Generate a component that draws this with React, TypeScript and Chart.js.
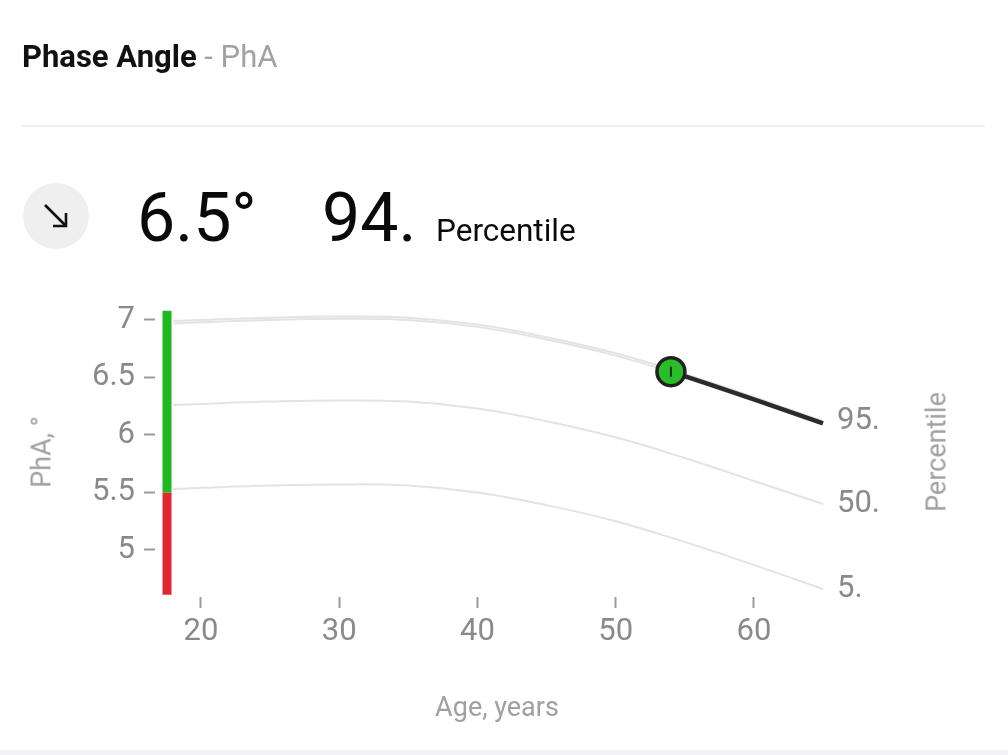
import React, { useEffect, useRef } from "react";
import { Chart, registerables } from "chart.js";

Chart.register(...registerables);

// ---- data ----
const ages = [18, 20, 25, 30, 35, 40, 45, 50, 55, 60, 65];
const p95 = [6.99, 7.0, 7.02, 7.03, 7.02, 6.96, 6.85, 6.71, 6.53, 6.33, 6.12];
const p94 = [6.97, 6.98, 7.0, 7.01, 7.0, 6.94, 6.83, 6.69, 6.51, 6.31, 6.1];
const p50 = [6.26, 6.27, 6.29, 6.3, 6.29, 6.23, 6.12, 5.98, 5.8, 5.6, 5.4];
const p5 = [5.53, 5.54, 5.56, 5.57, 5.56, 5.5, 5.39, 5.25, 5.07, 4.87, 4.66];
const userAges = [54, 60, 65];
const userValues = [6.55, 6.31, 6.1];
const measuredAge = 54;
const measuredValue = 6.55;
const rangeAge = 17.55;
const redRange = [4.61, 5.5];
const greenRange = [5.5, 7.08];
const xTicks = [20, 30, 40, 50, 60];
const yTicks = [5, 5.5, 6, 6.5, 7];
const yTickLabels = ["5", "5.5", "6", "6.5", "7"];
const percentileTickValues = [6.12, 5.4, 4.66];
const percentileTickLabels = ["95.", "50.", "5."];

const X_MIN = 16.68;
const X_MAX = 65;
const Y_MIN = 4.591;
const Y_MAX = 7.078;

const FONT = "Roboto, 'Noto Sans', Arial, sans-serif";
const TICK_COLOR = "#8a8a8a";
const CURVE_COLOR = "#e3e3e5";

const toPts = (xs: number[], ys: number[]) => xs.map((x, i) => ({ x, y: ys[i] }));

function PhaseChart() {
  const ref = useRef<HTMLCanvasElement | null>(null);
  useEffect(() => {
    if (!ref.current) return;
    const curve = (data: number[], order: number) => ({
      data: toPts(ages, data),
      borderColor: CURVE_COLOR,
      borderWidth: 2,
      pointRadius: 0,
      tension: 0.4,
      fill: false,
      order,
    });
    const chart = new Chart(ref.current, {
      type: "line",
      data: {
        datasets: [
          {
            data: [{ x: measuredAge, y: measuredValue }],
            showLine: false,
            pointStyle: "line",
            rotation: 90,
            pointRadius: 5,
            borderColor: "#1e2a1e",
            borderWidth: 2,
            order: -1,
          } as any,
          {
            data: [{ x: measuredAge, y: measuredValue }],
            showLine: false,
            pointStyle: "circle",
            pointRadius: 14,
            pointBackgroundColor: "#29be29",
            pointBorderColor: "#222222",
            pointBorderWidth: 3.5,
            order: 0,
          },
          {
            data: toPts(userAges, userValues),
            borderColor: "#2b2b2b",
            borderWidth: 4.5,
            pointRadius: 0,
            tension: 0.3,
            order: 1,
          },
          curve(p94, 2),
          curve(p95, 3),
          curve(p50, 4),
          curve(p5, 5),
          {
            data: [
              { x: rangeAge, y: greenRange[0] },
              { x: rangeAge, y: greenRange[1] },
            ],
            borderColor: "#1fb81f",
            borderWidth: 9,
            borderCapStyle: "butt",
            pointRadius: 0,
            order: 6,
          },
          {
            data: [
              { x: rangeAge, y: redRange[0] },
              { x: rangeAge, y: redRange[1] },
            ],
            borderColor: "#e0262e",
            borderWidth: 9,
            borderCapStyle: "butt",
            pointRadius: 0,
            order: 7,
          },
        ],
      },
      options: {
        animation: false,
        responsive: true,
        maintainAspectRatio: false,
        clip: false as any,
        layout: { padding: { top: 311, left: 0, right: 0, bottom: 0 } },
        plugins: { legend: { display: false }, tooltip: { enabled: false } },
        events: [],
        scales: {
          x: {
            type: "linear",
            min: X_MIN,
            max: X_MAX,
            afterFit: (s: any) => {
              s.height = 158;
            },
            afterBuildTicks: (s: any) => {
              s.ticks = xTicks.map((v) => ({ value: v }));
            },
            grid: {
              display: true,
              drawOnChartArea: false,
              drawTicks: true,
              tickLength: 11,
              tickColor: "#9a9a9a",
              tickWidth: 2,
            },
            border: { display: false },
            ticks: {
              padding: 6,
              color: TICK_COLOR,
              font: { family: FONT, size: 31 },
              maxRotation: 0,
              callback: (v: any) => String(v),
            },
          },
          y: {
            type: "linear",
            position: "left",
            min: Y_MIN,
            max: Y_MAX,
            afterFit: (s: any) => {
              s.width = 155;
            },
            afterBuildTicks: (s: any) => {
              s.ticks = yTicks.map((v) => ({ value: v }));
            },
            grid: {
              display: true,
              drawOnChartArea: false,
              drawTicks: true,
              tickLength: 11,
              tickColor: "#9a9a9a",
              tickWidth: 2,
            },
            border: { display: false },
            ticks: {
              padding: 9,
              color: TICK_COLOR,
              font: { family: FONT, size: 31 },
              callback: (_v: any, i: number) => yTickLabels[i],
            },
          },
          yRight: {
            type: "linear",
            position: "right",
            min: Y_MIN,
            max: Y_MAX,
            afterFit: (s: any) => {
              s.width = 185;
            },
            afterBuildTicks: (s: any) => {
              s.ticks = percentileTickValues.map((v) => ({ value: v }));
            },
            grid: { display: false, drawOnChartArea: false, drawTicks: false },
            border: { display: false },
            ticks: {
              padding: 14,
              color: TICK_COLOR,
              font: { family: FONT, size: 31 },
              callback: (_v: any, i: number) => percentileTickLabels[i],
            },
          },
        },
      },
    });
    return () => chart.destroy();
  }, []);
  return <canvas ref={ref} />;
}

export default function App() {
  const abs = (o: React.CSSProperties): React.CSSProperties => ({ position: "absolute", ...o });
  return (
    <div
      style={{
        position: "absolute",
        left: 0,
        top: 0,
        width: 1008,
        height: 755,
        overflow: "hidden",
        background: "#ffffff",
        fontFamily: FONT,
      }}
    >
      <div style={abs({ left: 0, top: 0, width: 1008, height: 755 })}>
        <PhaseChart />
      </div>
      <div style={abs({ left: 22, top: 41, fontSize: 31, lineHeight: "31px", whiteSpace: "nowrap" })}>
        <span style={{ fontWeight: 700, color: "#111" }}>Phase Angle</span>
        <span style={{ color: "#a2a2a2" }}> - PhA</span>
      </div>
      <div style={abs({ left: 22, top: 125, width: 963, height: 2, background: "#efefef" })} />
      <div
        style={abs({
          left: 23,
          top: 183,
          width: 66,
          height: 66,
          borderRadius: "50%",
          background: "#efefef",
        })}
      >
        <svg width="66" height="66" viewBox="0 0 66 66" style={{ display: "block" }}>
          <line x1="22" y1="22" x2="43" y2="43" stroke="#111" strokeWidth="2.6" />
          <polyline points="30,43 43,43 43,30" fill="none" stroke="#111" strokeWidth="2.6" />
        </svg>
      </div>
      <div style={abs({ left: 137, top: 184, fontSize: 68, lineHeight: "68px", color: "#0a0a0a", whiteSpace: "nowrap" })}>
        6.5°
      </div>
      <div style={abs({ left: 322, top: 184, fontSize: 68, lineHeight: "68px", color: "#0a0a0a", whiteSpace: "nowrap" })}>
        94.
      </div>
      <div style={abs({ left: 436, top: 215, fontSize: 31.5, lineHeight: "31px", color: "#0a0a0a", whiteSpace: "nowrap" })}>
        Percentile
      </div>
      <div
        style={abs({
          left: 42,
          top: 452,
          fontSize: 27,
          lineHeight: "27px",
          color: "#a0a0a0",
          whiteSpace: "nowrap",
          transform: "translate(-50%, -50%) rotate(-90deg)",
        })}
      >
        PhA, °
      </div>
      <div
        style={abs({
          left: 937,
          top: 452,
          fontSize: 27,
          lineHeight: "27px",
          color: "#a0a0a0",
          whiteSpace: "nowrap",
          transform: "translate(-50%, -50%) rotate(-90deg)",
        })}
      >
        Percentile
      </div>
      <div
        style={abs({
          left: 497,
          top: 707,
          fontSize: 27,
          lineHeight: "27px",
          color: "#a0a0a0",
          whiteSpace: "nowrap",
          transform: "translate(-50%, -50%)",
        })}
      >
        Age, years
      </div>
      <div style={abs({ left: 0, top: 750, width: 1008, height: 5, background: "#f3f3f6" })} />
    </div>
  );
}
